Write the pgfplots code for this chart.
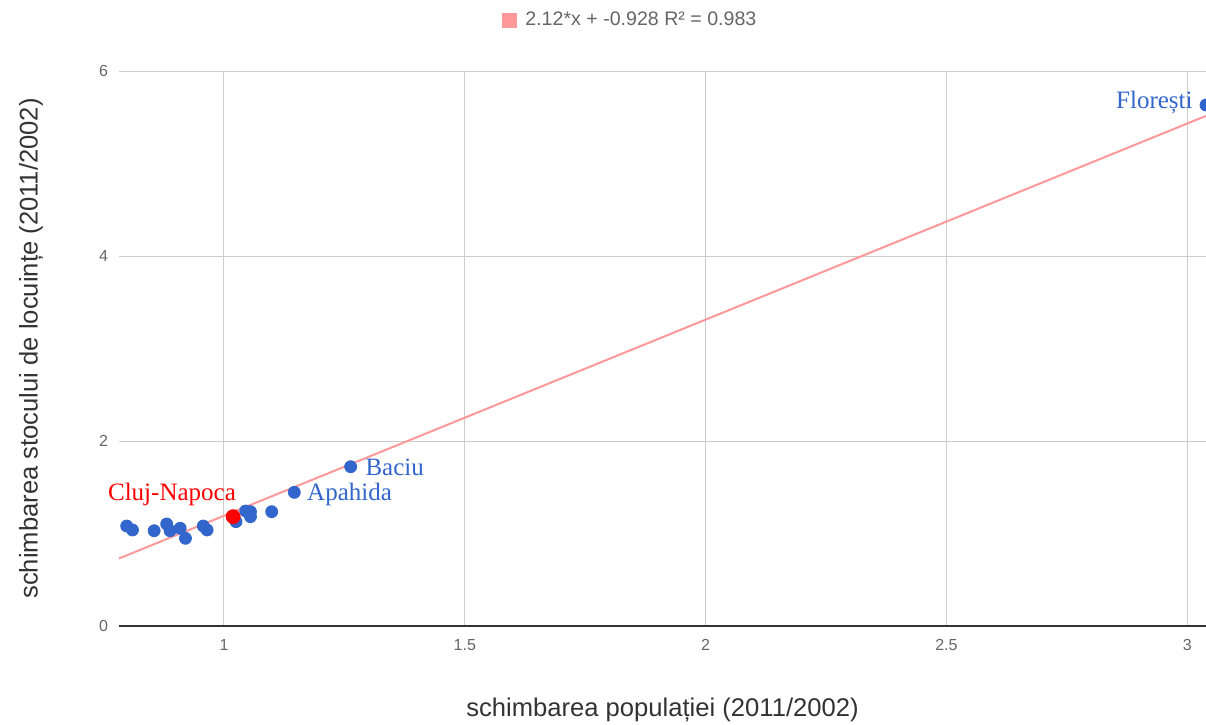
\documentclass[border=0pt]{standalone}
\usepackage{pgfplots}
\pgfplotsset{compat=1.18}
\usepackage{fontspec}
\setmainfont{Liberation Sans}
\newfontfamily\lblfont{Liberation Serif}
\definecolor{ptblue}{HTML}{3366CC}
\definecolor{trend}{HTML}{FF9999}
\definecolor{tickgray}{HTML}{666666}
\definecolor{labgray}{HTML}{333333}
\begin{document}
\begin{tikzpicture}
\useasboundingbox (0,0) rectangle (603pt,362pt);
\begin{axis}[
  at={(59.5pt,49pt)}, anchor=south west,
  scale only axis, width=543.5pt, height=277.5pt,
  xmin=0.782, xmax=3.039, ymin=0, ymax=6,
  xtick={1,1.5,2,2.5,3}, ytick={0,2,4,6},
  xticklabels={1,1.5,2,2.5,3},
  yticklabels={0,2,4,6},
  grid=major, major grid style={draw=black!20, line width=0.5pt},
  axis x line*=bottom, axis y line*=left,
  y axis line style={draw=none},
  x axis line style={draw=black!80, line width=0.7pt, -},
  major tick length=0pt,
  /pgf/number format/assume math mode=true,
  tick label style={font=\fontsize{8}{9}\selectfont, text=tickgray},
  xticklabel style={yshift=-3pt},
  yticklabel style={xshift=-2pt},
  xlabel={schimbarea populației (2011/2002)},
  ylabel={schimbarea stocului de locuințe (2011/2002)},
  label style={font=\fontsize{12.8}{15}\selectfont, text=labgray},
  xlabel style={at={(axis description cs:0.5,0)}, anchor=center, yshift=-42pt},
  ylabel style={at={(axis description cs:0,0.5)}, anchor=center, yshift=44pt},
  legend style={at={(axis description cs:0.471,1)}, anchor=center, yshift=25.5pt, draw=none, fill=none, font=\fontsize{9.8}{11}\selectfont, text=tickgray},
  legend image code/.code={\fill[trend] (-4pt,-3.5pt) rectangle (3pt,3.5pt);},
  legend cell align=left,
  clip=false,
]
\addplot[trend, line width=1pt, forget plot] coordinates {(0.782,0.7299) (3.039,5.5147)};
\addlegendimage{trend}
\addlegendentry{\hspace{2.5pt}2.12*x + -0.928 R² = 0.983}
\addplot[only marks, mark=*, mark size=3pt, ptblue, forget plot] coordinates {
(0.798,1.081) (0.810,1.038) (0.855,1.030) (0.881,1.103) (0.888,1.030)
(0.909,1.056) (0.920,0.948) (0.957,1.081) (0.965,1.038) (1.025,1.128)
(1.045,1.243) (1.055,1.236) (1.055,1.182) (1.099,1.236)
(1.146,1.445) (1.263,1.722) (3.039,5.632)
};
\addplot[only marks, mark=*, mark size=3.5pt, red, forget plot] coordinates {(1.019,1.182)};
\node[text=red, font=\lblfont\fontsize{12.5}{14}\selectfont] at (axis cs:0.892,1.427) {Cluj-Napoca};
\node[text=ptblue, font=\lblfont\fontsize{12.5}{14}\selectfont, anchor=west, inner sep=0pt] at (axis cs:1.293,1.719) {Baciu};
\node[text=ptblue, font=\lblfont\fontsize{12.5}{14}\selectfont, anchor=west, inner sep=0pt] at (axis cs:1.172,1.427) {Apahida};
\node[text=ptblue, font=\lblfont\fontsize{12.5}{14}\selectfont, anchor=east, inner sep=0pt] at (axis cs:3.012,5.665) {Florești};
\end{axis}
\end{tikzpicture}
\end{document}
